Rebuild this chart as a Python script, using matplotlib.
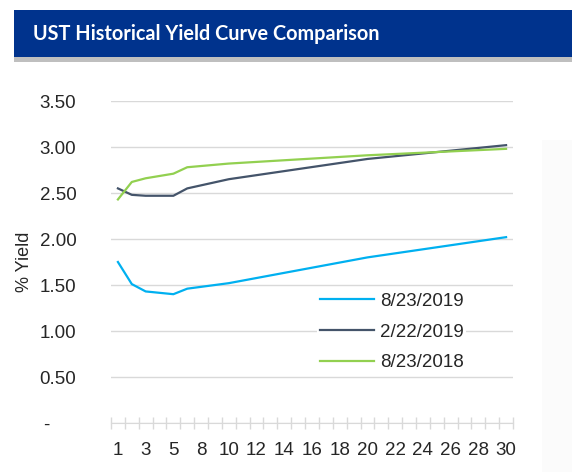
import matplotlib.pyplot as plt
from matplotlib.patches import Rectangle

# data
categories = [1, 2, 3, 4, 5] + list(range(7, 31))
maturities = [1, 2, 3, 5, 7, 10, 20, 30]
yld_20190823 = [1.75, 1.51, 1.43, 1.40, 1.46, 1.52, 1.80, 2.02]
yld_20190222 = [2.55, 2.48, 2.47, 2.47, 2.55, 2.65, 2.87, 3.02]
yld_20180823 = [2.43, 2.62, 2.66, 2.71, 2.78, 2.82, 2.91, 2.98]
series_labels = ['8/23/2019', '2/22/2019', '8/23/2018']
series_colors = ['#00b0f0', '#44546a', '#92d050']
y_ticks = [0, 0.5, 1.0, 1.5, 2.0, 2.5, 3.0, 3.5]

W, H = 572, 472
fig = plt.figure(figsize=(W / 100, H / 100), dpi=100)
plt.rcParams['font.family'] = ['Liberation Sans', 'DejaVu Sans']

# header banner
fig.patches.append(Rectangle((14 / W, 1 - 62 / H), 1, 5 / H, transform=fig.transFigure,
                             facecolor='#bfbfbf', edgecolor='none'))
fig.patches.append(Rectangle((14 / W, 1 - 57 / H), 1, 47 / H, transform=fig.transFigure,
                             facecolor='#00338d', edgecolor='none'))
fig.text(33 / W, 1 - 34 / H, 'UST Historical Yield Curve Comparison', color='white',
         fontsize=14.3, fontweight='bold', family=['Lato', 'DejaVu Sans'], va='center', ha='left')

# faint slide shadow on the right
fig.patches.append(Rectangle((542 / W, 0), 30 / W, 1 - 140 / H, transform=fig.transFigure,
                             facecolor='#fbfbfb', edgecolor='none', zorder=-1))

ax = fig.add_axes([111 / W, 49 / H, 402 / W, 322 / H])
ax.set_facecolor('none')

x_idx = [categories.index(m) for m in maturities]
for vals, lab, col in zip([yld_20190823, yld_20190222, yld_20180823], series_labels, series_colors):
    ax.plot(x_idx, vals, color=col, lw=1.6, label=lab, zorder=3)

ax.set_xlim(-0.5, len(categories) - 0.5)
ax.set_ylim(0, 3.5)
ax.set_yticks(y_ticks)
ax.set_yticklabels(['-     ' if v == 0 else f'{v:.2f}' for v in y_ticks])
ax.grid(axis='y', color='#d9d9d9', lw=1)
ax.set_axisbelow(True)

# boundary ticks (major) and category labels (minor)
ax.set_xticks([i - 0.5 for i in range(len(categories) + 1)])
ax.set_xticklabels([])
ax.set_xticks(list(range(0, len(categories), 2)), minor=True)
ax.set_xticklabels([str(categories[i]) for i in range(0, len(categories), 2)], minor=True)
ax.tick_params(axis='x', which='major', direction='inout', length=9, color='#d9d9d9', width=1)
ax.tick_params(axis='x', which='minor', length=0, pad=14, labelsize=13.5, labelcolor='#262626')
ax.tick_params(axis='y', length=0, pad=25, labelsize=13.5, labelcolor='#262626')

for s in ['top', 'right', 'left']:
    ax.spines[s].set_visible(False)
ax.spines['bottom'].set_color('#d9d9d9')

ax.set_ylabel('% Yield', fontsize=13, color='#262626', labelpad=5)

leg = ax.legend(loc='upper left', bbox_to_anchor=(206 / 402, (423 - 290) / 322), frameon=True,
                fontsize=13.5, handlelength=2.9, handletextpad=0.3, labelspacing=0.72,
                borderpad=0.15, borderaxespad=0)
leg.get_frame().set_edgecolor('none')
leg.get_frame().set_facecolor('white')
leg.get_frame().set_alpha(1)
for t in leg.get_texts():
    t.set_color('#262626')

fig.savefig('out.png', dpi=100)
